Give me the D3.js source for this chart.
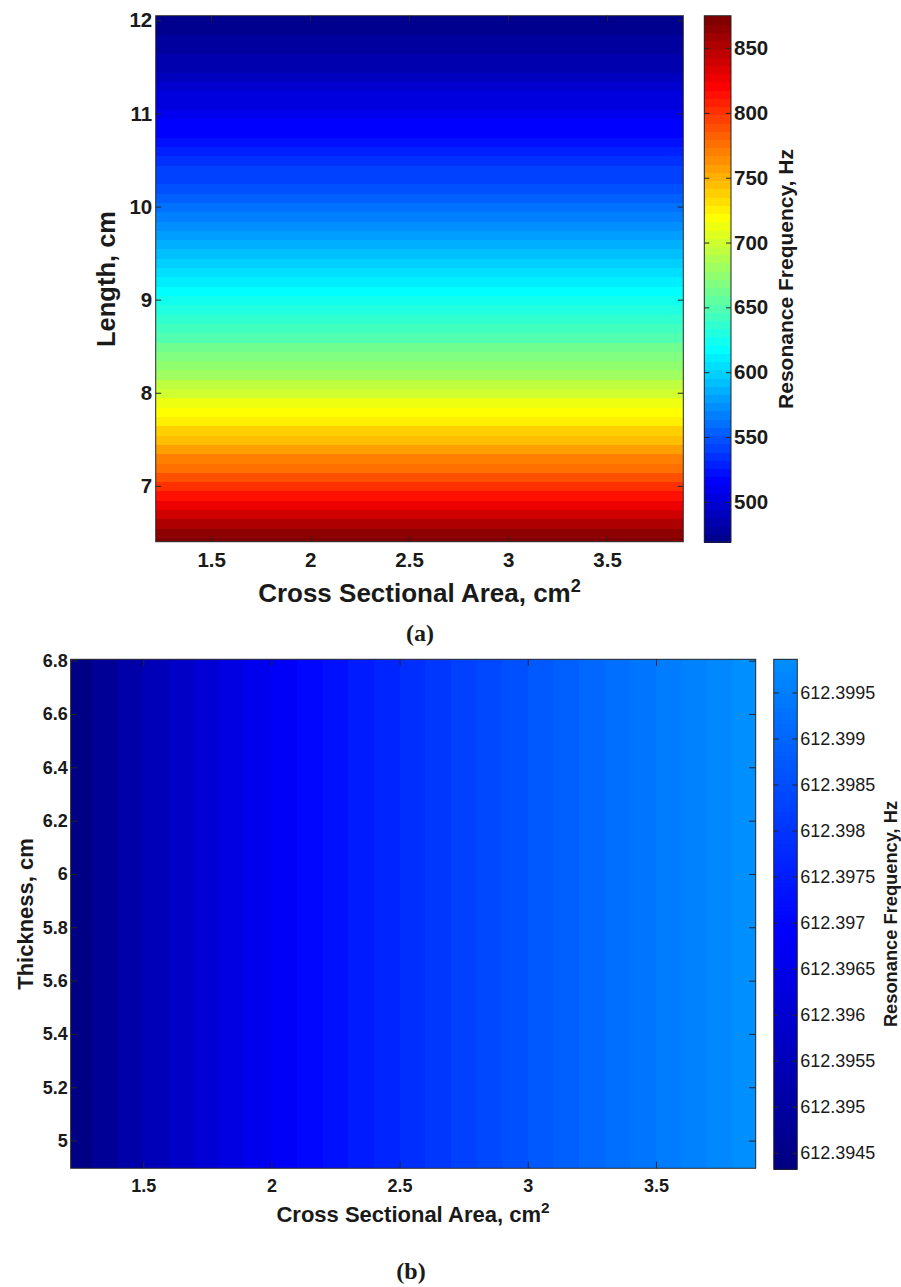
<!DOCTYPE html>
<html>
<head>
<meta charset="utf-8">
<script src="https://cdn.jsdelivr.net/npm/d3@7"></script>
<style>
  body { margin: 0; background: #fff; }
  svg text { font-family: "Liberation Sans", Arial, sans-serif; fill: #1a1a1a; }
</style>
</head>
<body>
<svg id="fig" width="901" height="1287"></svg>
<script>
// ---- data ----
// panel (a): frequency vs length (constant along the area axis)
const lengthsA = [6.4, 6.5, 6.6, 6.7, 6.8, 6.9, 7.0, 7.1, 7.2, 7.3, 7.4, 7.5, 7.6, 7.7, 7.8, 7.9,
  8.0, 8.1, 8.2, 8.3, 8.4, 8.5, 8.6, 8.7, 8.8, 8.9, 9.0, 9.1, 9.2, 9.3, 9.4, 9.5, 9.6, 9.7, 9.8, 9.9,
  10.0, 10.1, 10.2, 10.3, 10.4, 10.5, 10.6, 10.7, 10.8, 10.9, 11.0, 11.1, 11.2, 11.3, 11.4, 11.5,
  11.6, 11.7, 11.8, 11.9, 12.0];
const freqA = [876.6, 863.1, 850.0, 837.3, 825.0, 813.0, 801.4, 790.1, 779.2, 768.5, 758.1, 748.0,
  738.2, 728.6, 719.2, 710.1, 701.3, 692.6, 684.1, 675.9, 667.9, 660.0, 652.3, 644.8, 637.5, 630.3,
  623.3, 616.5, 609.8, 603.2, 596.8, 590.5, 584.4, 578.4, 572.4, 566.7, 561.0, 555.4, 550.0, 544.7,
  539.4, 534.3, 529.2, 524.3, 519.4, 514.7, 510.0, 505.4, 500.9, 496.5, 492.1, 487.8, 483.6, 479.5,
  475.4, 471.4, 467.5];

// panel (b): frequency vs cross sectional area (constant along the thickness axis)
const areasB = [1.25, 1.35, 1.45, 1.55, 1.65, 1.75, 1.85, 1.95, 2.05, 2.15, 2.25, 2.35, 2.45, 2.55,
  2.65, 2.75, 2.85, 2.95, 3.05, 3.15, 3.25, 3.35, 3.45, 3.55, 3.65, 3.75, 3.85];
const freqB = [612.39444, 612.39481, 612.39515, 612.39547, 612.39578, 612.39606, 612.39633,
  612.39658, 612.39682, 612.39705, 612.39727, 612.39748, 612.39768, 612.39788, 612.39806,
  612.39824, 612.39841, 612.39858, 612.39874, 612.39889, 612.39904, 612.39919, 612.39933,
  612.39947, 612.39960, 612.39973, 612.39986];

// ticks
const areaTicks = [1.5, 2, 2.5, 3, 3.5];
const lengthTicks = [7, 8, 9, 10, 11, 12];
const freqTicksA = [500, 550, 600, 650, 700, 750, 800, 850];
const thickTicks = [5, 5.2, 5.4, 5.6, 5.8, 6, 6.2, 6.4, 6.6, 6.8];
const freqTicksB = [612.3945, 612.395, 612.3955, 612.396, 612.3965, 612.397, 612.3975,
  612.398, 612.3985, 612.399, 612.3995];

// ---- helpers ----
function jet(t) {
  const c = v => Math.max(0, Math.min(1, v));
  return d3.rgb(255 * c(Math.min(4 * t - 1.5, -4 * t + 4.5)),
                255 * c(Math.min(4 * t - 0.5, -4 * t + 3.5)),
                255 * c(Math.min(4 * t + 0.5, -4 * t + 2.5))).formatHex();
}
// matlab style jet(64)
function jet64(u) {
  const i = Math.max(0, Math.min(63, Math.floor(u * 64)));
  return jet((i + 1) / 64);
}

const svg = d3.select('#fig');
svg.append('rect').attr('width', 901).attr('height', 1287).attr('fill', '#fff');
const axisColor = '#262626';

function styleAxis(g, size) {
  g.select('.domain').remove();
  g.selectAll('line').attr('stroke', axisColor).attr('stroke-width', 1);
  g.selectAll('text').style('font-size', size + 'px').style('font-weight', 'bold').attr('fill', '#1a1a1a');
}

function frameAxes(g, x, y, xt, yt, tick, pad, size, xFmt, yFmt) {
  const [x0, x1] = x.range(), [y1, y0] = y.range();
  g.append('g').attr('transform', `translate(0,${y1})`)
    .call(d3.axisBottom(x).tickValues(xt).tickSize(-tick).tickPadding(pad.x).tickFormat(xFmt))
    .call(a => styleAxis(a, size));
  g.append('g').attr('transform', `translate(0,${y0})`)
    .call(d3.axisTop(x).tickValues(xt).tickSize(-tick).tickFormat(''))
    .call(a => styleAxis(a, size));
  g.append('g').attr('transform', `translate(${x0},0)`)
    .call(d3.axisLeft(y).tickValues(yt).tickSize(-tick).tickPadding(pad.y).tickFormat(yFmt))
    .call(a => styleAxis(a, size));
  g.append('g').attr('transform', `translate(${x1},0)`)
    .call(d3.axisRight(y).tickValues(yt).tickSize(-tick).tickFormat(''))
    .call(a => styleAxis(a, size));
  g.append('rect').attr('x', x0).attr('y', y0).attr('width', x1 - x0).attr('height', y1 - y0)
    .attr('fill', 'none').attr('stroke', axisColor).attr('stroke-width', 1);
}

function colorbar(g, c, x0, x1, ticks, fmt, size, weight, colorOf, n) {
  const [b, t] = c.range();
  const lo = c.domain()[0], hi = c.domain()[1];
  const step = (hi - lo) / n;
  g.append('g').attr('shape-rendering', 'crispEdges')
    .selectAll('rect').data(d3.range(n)).enter().append('rect')
    .attr('x', x0).attr('width', x1 - x0)
    .attr('y', i => c(lo + (i + 1) * step))
    .attr('height', i => c(lo + i * step) - c(lo + (i + 1) * step) + 1)
    .attr('fill', i => colorOf((i + 0.5) / n));
  g.append('g').attr('transform', `translate(${x1},0)`)
    .call(d3.axisRight(c).tickValues(ticks).tickSize(-5).tickPadding(3).tickFormat(fmt))
    .call(a => { styleAxis(a, size); a.selectAll('text').style('font-weight', weight); });
  g.append('g').attr('transform', `translate(${x0},0)`)
    .call(d3.axisLeft(c).tickValues(ticks).tickSize(-5).tickFormat(''))
    .call(a => styleAxis(a, size));
  g.append('rect').attr('x', x0).attr('y', t).attr('width', x1 - x0).attr('height', b - t)
    .attr('fill', 'none').attr('stroke', axisColor).attr('stroke-width', 1);
}

function xLabel(g, x, y, size) {
  const t = g.append('text').attr('x', x).attr('y', y).attr('text-anchor', 'middle')
    .style('font-size', size + 'px').style('font-weight', 'bold');
  t.append('tspan').text('Cross Sectional Area, cm');
  t.append('tspan').attr('dy', '-0.52em').style('font-size', '0.7em').text('2');
}

function yLabel(g, x, y, size, txt) {
  g.append('text').attr('transform', `translate(${x},${y}) rotate(-90)`)
    .attr('text-anchor', 'middle').style('font-size', size + 'px').style('font-weight', 'bold')
    .text(txt);
}

// ---- panel (a) ----
const gA = svg.append('g');
const xA = d3.scaleLinear().domain([1.22, 3.885]).range([155.7, 683.3]);
const yA = d3.scaleLinear().domain([6.4, 12.05]).range([541.7, 15.7]);
const cA = d3.scaleLinear().domain([469, 875]).range([542, 15.7]);

gA.append('clipPath').attr('id', 'clipA').append('rect')
  .attr('x', xA.range()[0]).attr('y', yA.range()[1])
  .attr('width', xA.range()[1] - xA.range()[0]).attr('height', yA.range()[0] - yA.range()[1]);

gA.append('g').attr('clip-path', 'url(#clipA)').attr('shape-rendering', 'crispEdges')
  .selectAll('rect').data(lengthsA).enter().append('rect')
  .attr('x', xA.range()[0]).attr('width', xA.range()[1] - xA.range()[0])
  .attr('y', d => yA(d + 0.05))
  .attr('height', d => yA(d - 0.05) - yA(d + 0.05) + 1)
  .attr('fill', (d, i) => jet64((freqA[i] - cA.domain()[0]) / (cA.domain()[1] - cA.domain()[0])));

frameAxes(gA, xA, yA, areaTicks, lengthTicks, 5.5, {x: 10.5, y: 3.5}, 20.5, d3.format(''), d3.format(''));
colorbar(gA, cA, 704.3, 731, freqTicksA, d3.format(''), 20.5, 'bold', jet64, 64);

xLabel(gA, 419.5, 601.5, 26);
yLabel(gA, 115, 279, 25.5, 'Length, cm');
yLabel(gA, 793, 279, 21, 'Resonance Frequency, Hz');

gA.append('text').attr('x', 420).attr('y', 641).attr('text-anchor', 'middle')
  .style('font-family', '"Liberation Serif", "Times New Roman", serif')
  .style('font-size', '24px').style('font-weight', 'bold').text('(a)');

// ---- panel (b) ----
const gB = svg.append('g');
const xB = d3.scaleLinear().domain([1.217, 3.889]).range([70.7, 755.7]);
const yB = d3.scaleLinear().domain([4.896, 6.805]).range([1168.3, 659.3]);
const cB = d3.scaleLinear().domain([612.39432, 612.39986]).range([1169.3, 659.3]);
const spanB = 0.265; // portion of jet used by panel (b)
const colorB = u => jet(spanB * u);

gB.append('clipPath').attr('id', 'clipB').append('rect')
  .attr('x', xB.range()[0]).attr('y', yB.range()[1])
  .attr('width', xB.range()[1] - xB.range()[0]).attr('height', yB.range()[0] - yB.range()[1]);

gB.append('g').attr('clip-path', 'url(#clipB)').attr('shape-rendering', 'crispEdges')
  .selectAll('rect').data(areasB).enter().append('rect')
  .attr('y', yB.range()[1]).attr('height', yB.range()[0] - yB.range()[1])
  .attr('x', d => xB(d - 0.05))
  .attr('width', d => xB(d + 0.05) - xB(d - 0.05) + 1)
  .attr('fill', (d, i) => colorB((freqB[i] - cB.domain()[0]) / (cB.domain()[1] - cB.domain()[0])));

frameAxes(gB, xB, yB, areaTicks, thickTicks, 6.5, {x: 11, y: 3}, 18, d3.format(''), d3.format(''));
colorbar(gB, cB, 773.7, 797.3, freqTicksB, d => String(+d.toFixed(4)), 18, 'normal', colorB, 128);

xLabel(gB, 413, 1221.5, 22);
yLabel(gB, 33, 914, 22, 'Thickness, cm');
yLabel(gB, 896.5, 914, 18.3, 'Resonance Frequency, Hz');

gB.append('text').attr('x', 411).attr('y', 1279).attr('text-anchor', 'middle')
  .style('font-family', '"Liberation Serif", "Times New Roman", serif')
  .style('font-size', '24px').style('font-weight', 'bold').text('(b)');
</script>
</body>
</html>
